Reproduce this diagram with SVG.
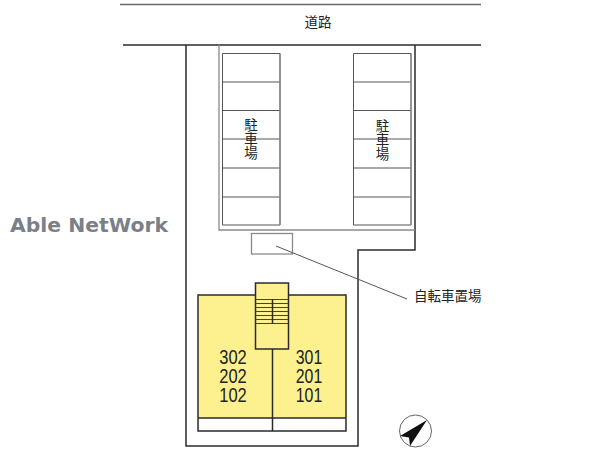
<svg xmlns="http://www.w3.org/2000/svg" width="600" height="450" viewBox="0 0 600 450">
<style>
.k{fill:none;stroke:#2b2b2b;stroke-width:1.5}
.g{fill:none;stroke:#8a8a8a;stroke-width:1.3}
.lot{fill:none;stroke:#555;stroke-width:1}
.s{stroke:#4a4526;stroke-width:1;fill:none}
.j{font-family:"Noto Sans CJK JP",sans-serif;fill:#222;font-size:13.500px}
.v{writing-mode:vertical-rl;letter-spacing:0.500px}
.n{font-family:"Liberation Sans",sans-serif;font-size:20px;fill:#222;text-anchor:middle}
</style>
<rect width="600" height="450" fill="#fff"/>
<g id="site">
<path d="M120 4.500H481" fill="none" stroke="#666" stroke-width="1.500"/>
<path class="k" d="M123 45H481"/>
<path class="k" d="M186 45V446H358V250H415V45"/>
</g>
<g id="parking">
<path class="g" d="M219 45V230H415"/>
<g class="lot">
<path d="M222.500 53.500H280V225H222.500Z"/>
<path d="M222.500 82H280M222.500 110.500H280M222.500 139H280M222.500 168H280M222.500 197H280"/>
<path d="M353.500 53.500H411V225H353.500Z"/>
<path d="M353.500 82H411M353.500 110.500H411M353.500 139H411M353.500 168H411M353.500 197H411"/>
</g>
<path d="M280 53.500V225M411 53.500V225" stroke="#8a8a8a" stroke-width="1.300"/>
<text class="j v" x="251" y="118">駐車場</text>
<text class="j v" x="382.500" y="119">駐車場</text>
</g>
<g id="road-label"><text class="j" x="318" y="27" text-anchor="middle">道路</text></g>
<g id="bike-shelter"><rect class="g" x="251.500" y="233.500" width="41" height="20.500"/></g>
<g id="building">
<rect x="198" y="295" width="148" height="123" fill="#fdf18f"/>
<path class="k" d="M198 295H346V431H198ZM198 418H346"/>
<path class="k" d="M272.500 349V431"/>
<rect x="255.500" y="283" width="33" height="66" fill="#fdf18f" stroke="#2b2b2b" stroke-width="1.500"/>
<path class="s" d="M255.500 299.500H288.500M255.500 303.500H288.500M255.500 307.500H288.500M255.500 311.500H288.500M255.500 315.500H288.500M255.500 319.500H288.500M255.500 323.500H288.500"/>
<path class="k" d="M272.500 299V324"/>
<text class="n" x="233" y="364" textLength="27.500" lengthAdjust="spacingAndGlyphs">302</text>
<text class="n" x="233" y="383" textLength="27.500" lengthAdjust="spacingAndGlyphs">202</text>
<text class="n" x="233" y="402" textLength="27.500" lengthAdjust="spacingAndGlyphs">102</text>
<text class="n" x="309" y="364" textLength="26.500" lengthAdjust="spacingAndGlyphs">301</text>
<text class="n" x="309" y="383" textLength="26.500" lengthAdjust="spacingAndGlyphs">201</text>
<text class="n" x="309" y="402" textLength="26.500" lengthAdjust="spacingAndGlyphs">101</text>
</g>
<g id="connectors"><path d="M276 246L407 299" fill="none" stroke="#555" stroke-width="1"/></g>
<g id="bike-label"><text class="j" x="414" y="301">自転車置場</text></g>
<g id="compass">
<circle cx="415.500" cy="431" r="16" fill="#fff" stroke="#666" stroke-width="1"/>
<path d="M427 420L400 436L409 437.500L410 446Z" fill="#111"/>
</g>
<g id="watermark"><text x="10" y="231.500" font-family="'DejaVu Sans',sans-serif" font-weight="700" font-size="19.500px" fill="#7b8088" textLength="158" lengthAdjust="spacingAndGlyphs">Able NetWork</text></g>
</svg>
